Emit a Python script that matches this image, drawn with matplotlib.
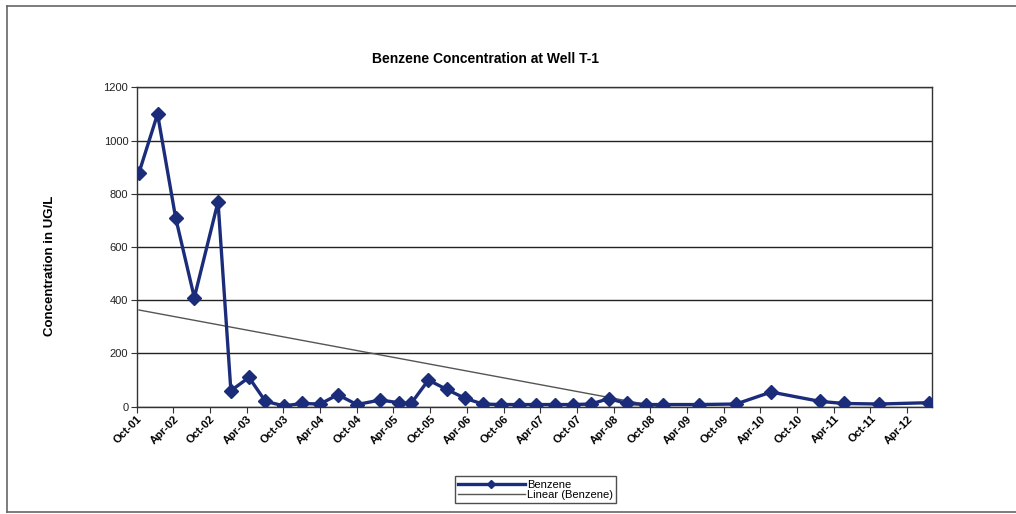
import datetime as dt
import numpy as np
import matplotlib.pyplot as plt
import matplotlib.dates as mdates
from matplotlib.lines import Line2D

plt.rcParams['font.family'] = ['Liberation Sans', 'DejaVu Sans']

# sample dates and benzene concentrations (ug/L)
sample_dates = [
    '2001-10-13', '2002-01-13', '2002-04-13', '2002-07-15', '2002-11-10',
    '2003-01-13', '2003-04-13', '2003-07-04', '2003-10-04', '2004-01-01',
    '2004-04-01', '2004-06-28', '2004-10-01', '2005-01-25', '2005-04-28',
    '2005-06-28', '2005-09-22', '2005-12-22', '2006-03-22', '2006-06-19',
    '2006-09-16', '2006-12-16', '2007-03-13', '2007-06-13', '2007-09-13',
    '2007-12-10', '2008-03-07', '2008-06-07', '2008-09-07', '2008-12-04',
    '2009-06-01', '2009-12-01', '2010-05-25', '2011-01-22', '2011-05-22',
    '2011-11-13', '2012-07-19',
]
benzene = [
    880, 1100, 710, 410, 770,
    60, 110, 20, 3, 12,
    10, 45, 8, 25, 15,
    12, 100, 65, 32, 10,
    8, 8, 8, 8, 8,
    10, 30, 12, 8, 8,
    8, 10, 55, 20, 12,
    10, 15,
]
y_ticks = [0, 200, 400, 600, 800, 1000, 1200]

title = 'Benzene Concentration at Well T-1'
y_label = 'Concentration in UG/L'
series_name = 'Benzene'
trend_name = 'Linear (Benzene)'

navy = '#1b2d7a'

dates = [dt.datetime.strptime(d, '%Y-%m-%d') for d in sample_dates]
xnum = mdates.date2num(dates)

# linear trendline, like Excel's
slope, intercept = np.polyfit(xnum, benzene, 1)
trend_x = np.array([xnum[0], xnum[-1]])
trend_y = slope * trend_x + intercept

fig = plt.figure(figsize=(10.16, 5.14), dpi=100)
ax = fig.add_axes([0.1345, 0.2088, 0.7825, 0.6212])

ax.plot(dates, benzene, color=navy, lw=2.4, marker='D', ms=7.5,
        mec=navy, mfc=navy, zorder=3)
ax.plot(mdates.num2date(trend_x), trend_y, color='#555555', lw=1.0, zorder=2)

ax.set_ylim(0, 1200)
ax.set_yticks(y_ticks)
ax.set_xlim(dt.datetime(2001, 10, 1), dt.datetime(2012, 8, 1))

ticks = []
d = dt.datetime(2001, 10, 1)
while d <= dt.datetime(2012, 4, 1):
    ticks.append(d)
    m = d.month + 6
    d = dt.datetime(d.year + (m - 1) // 12, (m - 1) % 12 + 1, 1)
ax.set_xticks(ticks)
ax.xaxis.set_major_formatter(mdates.DateFormatter('%b-%y'))

ax.grid(axis='y', color='#222222', lw=1.0)
ax.set_axisbelow(True)
for s in ax.spines.values():
    s.set_color('#333333')
    s.set_linewidth(1.0)

ax.tick_params(axis='y', labelsize=8, length=4, color='#333333', pad=2)
ax.tick_params(axis='x', labelsize=8, length=4, color='#333333', pad=1)
for lab in ax.get_yticklabels():
    lab.set_color('#222222')
for lab in ax.get_xticklabels():
    lab.set_rotation(45)
    lab.set_ha('right')
    lab.set_rotation_mode('anchor')
    lab.set_fontweight('bold')

ax.set_ylabel(y_label, fontsize=9.5, fontweight='bold')
ax.yaxis.set_label_coords(-0.101, 0.44)
fig.text(0.478, 0.886, title, ha='center', va='center', fontsize=10,
         fontweight='bold')

handles = [
    Line2D([], [], color=navy, lw=2.4, marker='D', ms=4),
    Line2D([], [], color='#555555', lw=1.0),
]
leg = fig.legend(handles, [series_name, trend_name], loc='center',
                 bbox_to_anchor=(0.527, 0.047), fontsize=8, frameon=True,
                 fancybox=False, handlelength=6, borderpad=0.3,
                 labelspacing=0.05, handletextpad=0.2, borderaxespad=0)
leg.get_frame().set_edgecolor('#222222')
leg.get_frame().set_linewidth(1.0)
leg._legend_box.align = 'left'

# outer chart-area border
fig.add_artist(Line2D([0.007, 0.007], [0.004, 0.988], color='#666666', lw=1.2))
fig.add_artist(Line2D([0.007, 1.0], [0.988, 0.988], color='#666666', lw=1.2))
fig.add_artist(Line2D([0.007, 1.0], [0.004, 0.004], color='#666666', lw=1.2))

fig.savefig('out.png', dpi=100)
